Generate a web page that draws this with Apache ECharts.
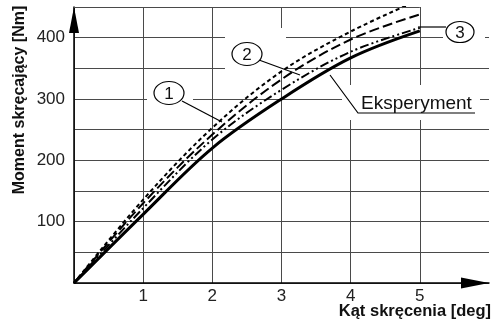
<!DOCTYPE html>
<html>
<head>
<meta charset="utf-8">
<script src="https://cdn.jsdelivr.net/npm/echarts@6/dist/echarts.min.js"></script>
<style>html,body{margin:0;padding:0;background:#fff}#c{width:492px;height:322px}</style>
</head>
<body>
<div id="c"></div>
<script>
// Angle of twist [deg]
const angles = [0, 1, 2, 3, 4, 5];
// Torque [Nm]
const experiment = [0, 112, 220, 300, 367, 411];
const model3 = [0, 122, 234, 315, 377, 416];
const model2 = [0, 130, 242, 332, 397, 438];
const model1 = [0, 136, 253, 345, 410, 462];
const xTicks = [1, 2, 3, 4, 5];
const yTicks = [100, 200, 300, 400];
const xTitle = 'Kąt skręcenia [deg]';
const yTitle = 'Moment skręcający [Nm]';
const expLabel = 'Eksperyment';

const pairs = arr => angles.map((a, i) => [a, arr[i]]);
const chart = echarts.init(document.getElementById('c'), null, {renderer: 'canvas'});
const gridColor = '#4a4a4a';
const font = 'Liberation Sans, Arial, sans-serif';

function lineSeries(data, type, width, z) {
  return {
    type: 'line', data: pairs(data), smooth: 0.35, symbol: 'none', clip: true, z: z,
    lineStyle: {color: '#000', width: width, type: type}
  };
}

chart.setOption({
  animation: false,
  grid: {left: 74, right: 2, top: 7, bottom: 39},
  xAxis: {
    type: 'value', min: 0, max: 6, interval: 1,
    axisLine: {lineStyle: {color: '#000', width: 1.5}, symbol: ['none', 'triangle'], symbolSize: [11, 28], symbolOffset: [0, -14]},
    axisTick: {show: false},
    splitLine: {show: true, showMaxLine: false, lineStyle: {color: gridColor, width: 1}},
    axisLabel: {fontFamily: font, fontSize: 17, color: '#222', margin: 5,
      formatter: v => xTicks.indexOf(v) >= 0 ? String(v) : ''}
  },
  yAxis: {
    type: 'value', min: 0, max: 450, interval: 50,
    axisLine: {show: true, lineStyle: {color: '#000', width: 1.5}, symbol: ['none', 'triangle'], symbolSize: [10, 26], symbolOffset: [0, -13]},
    axisTick: {show: false},
    splitLine: {show: true, showMaxLine: false, lineStyle: {color: gridColor, width: 1}},
    axisLabel: {fontFamily: font, fontSize: 17, color: '#222', margin: 9,
      formatter: v => yTicks.indexOf(v) >= 0 ? String(v) : ''}
  },
  series: [
    lineSeries(model1, [4, 3], 2, 3),
    lineSeries(model2, [10, 4], 2, 3),
    lineSeries(model3, [9, 3, 2, 3, 2, 3], 2, 3),
    lineSeries(experiment, 'solid', 3, 4),
    {
      type: 'line', data: [], silent: true,
      markLine: {symbol: 'none', silent: true, label: {show: false},
        lineStyle: {color: gridColor, width: 1, type: 'solid'},
        data: [[{coord: [0, 450]}, {coord: [5, 450]}]]}
    }
  ],
  graphic: [
    // white masks behind labels
    {type: 'rect', z: 1, shape: {x: 147, y: 82, width: 46, height: 24}, style: {fill: '#fff'}},
    {type: 'rect', z: 1, shape: {x: 225, y: 28, width: 61, height: 42}, style: {fill: '#fff'}},
    {type: 'rect', z: 1, shape: {x: 443, y: 20, width: 42, height: 25}, style: {fill: '#fff'}},
    {type: 'rect', z: 1, shape: {x: 342, y: 85, width: 138, height: 35}, style: {fill: '#fff'}},
    // leader lines
    {type: 'line', z: 10, shape: {x1: 182, y1: 101, x2: 222, y2: 122}, style: {stroke: '#000', lineWidth: 1.2}},
    {type: 'line', z: 10, shape: {x1: 259, y1: 60, x2: 300, y2: 75}, style: {stroke: '#000', lineWidth: 1.2}},
    {type: 'line', z: 10, shape: {x1: 446, y1: 27, x2: 418, y2: 27}, style: {stroke: '#000', lineWidth: 1.2}},
    {type: 'polyline', z: 10, shape: {points: [[330, 75], [358, 113], [475, 113]]}, style: {stroke: '#000', lineWidth: 1.2, fill: null}},
    // ellipses with numbers
    {type: 'ellipse', z: 10, shape: {cx: 169, cy: 93, rx: 15, ry: 11.5}, style: {stroke: '#000', lineWidth: 1.2, fill: '#fff'}},
    {type: 'ellipse', z: 10, shape: {cx: 247, cy: 54, rx: 15, ry: 11.5}, style: {stroke: '#000', lineWidth: 1.2, fill: '#fff'}},
    {type: 'ellipse', z: 10, shape: {cx: 460, cy: 32, rx: 14, ry: 10.5}, style: {stroke: '#000', lineWidth: 1.2, fill: '#fff'}},
    {type: 'text', z: 11, x: 169, y: 94, style: {text: '1', font: '17px ' + font, fill: '#111', textAlign: 'center', textVerticalAlign: 'middle'}},
    {type: 'text', z: 11, x: 247, y: 55, style: {text: '2', font: '17px ' + font, fill: '#111', textAlign: 'center', textVerticalAlign: 'middle'}},
    {type: 'text', z: 11, x: 460, y: 33, style: {text: '3', font: '17px ' + font, fill: '#111', textAlign: 'center', textVerticalAlign: 'middle'}},
    {type: 'text', z: 11, x: 361, y: 104, style: {text: expLabel, font: '19px ' + font, fill: '#111', textAlign: 'left', textVerticalAlign: 'middle'}},
    // axis titles
    {type: 'text', z: 11, x: 491, y: 311, style: {text: xTitle, font: 'bold 16.5px ' + font, fill: '#111', textAlign: 'right', textVerticalAlign: 'middle'}},
    {type: 'text', z: 11, x: 20, y: 100, rotation: Math.PI / 2, style: {text: yTitle, font: 'bold 16px ' + font, fill: '#111', textAlign: 'center', textVerticalAlign: 'middle'}}
  ]
});
</script>
</body>
</html>
